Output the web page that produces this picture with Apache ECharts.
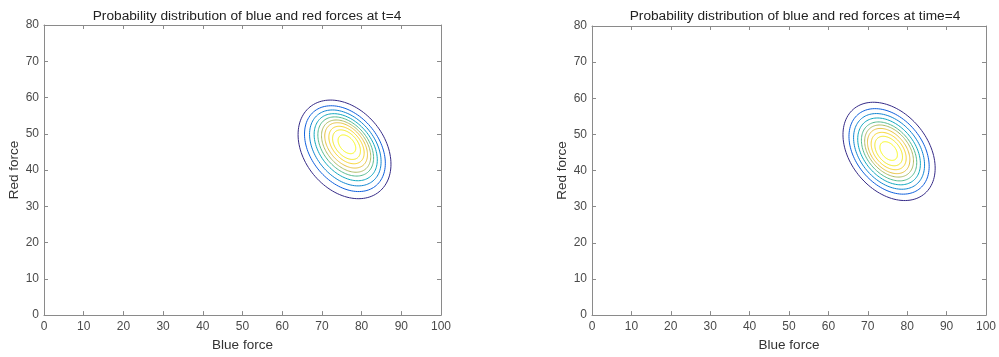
<!DOCTYPE html>
<html>
<head>
<meta charset="utf-8">
<script src="https://cdn.jsdelivr.net/npm/echarts@6/dist/echarts.min.js"></script>
<style>
  html, body { margin: 0; padding: 0; background: #fff; }
  #chart { width: 999px; height: 357px; }
</style>
</head>
<body>
<div id="chart"></div>
<script>
  // axis ranges / ticks
  const xMin = 0, xMax = 100, xStep = 10
  const yMin = 0, yMax = 80, yStep = 10

  const titles = [
    'Probability distribution of blue and red forces at t=4',
    'Probability distribution of blue and red forces at time=4'
  ]

  // contour rings (outer -> inner)
  // relative size of each ring versus the outer one
  const ringScale = [1, 0.87, 0.77, 0.68, 0.60, 0.53, 0.46, 0.38, 0.30, 0.19]
  // parula colours per level
  const ringColors = ['#352a87', '#0f60dd', '#1186d3', '#10a8c0', '#55bb90',
    '#aebd67', '#e7c343', '#f8d42a', '#f2e91f', '#f9fb0e']

  // left plot (t=4)
  const leftCx = [75.7, 75.8, 75.9, 76.0, 76.0, 76.1, 76.1, 76.2, 76.2, 76.3]
  const leftCy = [45.7, 45.9, 46.1, 46.3, 46.5, 46.6, 46.8, 46.9, 47.0, 47.1]
  const leftRho = [-0.30, -0.34, -0.36, -0.38, -0.39, -0.40, -0.41, -0.42, -0.42, -0.42]
  const leftSpread = {sx: 11.7, sy: 13.6}

  // right plot (time=4)
  const rightCx = [75.4, 75.4, 75.4, 75.4, 75.4, 75.4, 75.3, 75.3, 75.3, 75.3]
  const rightCy = [45.3, 45.3, 45.3, 45.3, 45.3, 45.4, 45.4, 45.4, 45.4, 45.4]
  const rightRho = [-0.34, -0.35, -0.36, -0.37, -0.38, -0.38, -0.39, -0.39, -0.40, -0.40]
  const rightSpread = {sx: 11.7, sy: 13.6}

  const axisGrey = '#8a8a8a'
  const labelGrey = '#4a4a4a'
  const font = 'Liberation Sans, Arial, sans-serif'

  function ringData(cx, cy, rho, spread) {
    return ringScale.map((s, i) => [cx[i], cy[i], spread.sx * s, spread.sy * s, rho[i], i])
  }

  function renderRing(params, api) {
    const cx = api.value(0), cy = api.value(1)
    const sx = api.value(2), sy = api.value(3), rho = api.value(4)
    const idx = api.value(5)
    const pts = []
    const n = 120
    for (let k = 0; k <= n; k++) {
      const t = 2 * Math.PI * k / n
      const x = cx + sx * Math.cos(t)
      const y = cy + sy * (rho * Math.cos(t) + Math.sqrt(1 - rho * rho) * Math.sin(t))
      pts.push(api.coord([x, y]))
    }
    return {
      type: 'polyline',
      shape: {points: pts},
      style: {stroke: ringColors[idx], fill: null, lineWidth: 1}
    }
  }

  function xAxes(gridIndex) {
    const base = {
      type: 'value', gridIndex: gridIndex, min: xMin, max: xMax, interval: xStep,
      splitLine: {show: false},
      axisLine: {show: true, onZero: false, lineStyle: {color: axisGrey, width: 1}},
      axisTick: {show: true, inside: true, length: 4, lineStyle: {color: axisGrey}}
    }
    return [
      Object.assign({}, base, {
        position: 'bottom',
        name: 'Blue force', nameLocation: 'middle', nameGap: 20,
        nameTextStyle: {color: '#333', fontSize: 13.5, fontFamily: font},
        axisLabel: {color: labelGrey, fontSize: 12, fontFamily: font, margin: 6}
      }),
      Object.assign({}, base, {position: 'top', axisLabel: {show: false}})
    ]
  }

  function yAxes(gridIndex) {
    const base = {
      type: 'value', gridIndex: gridIndex, min: yMin, max: yMax, interval: yStep,
      splitLine: {show: false},
      axisLine: {show: true, onZero: false, lineStyle: {color: axisGrey, width: 1}},
      axisTick: {show: true, inside: true, length: 4, lineStyle: {color: axisGrey}}
    }
    return [
      Object.assign({}, base, {
        position: 'left',
        name: 'Red force', nameLocation: 'middle', nameGap: 22,
        nameTextStyle: {color: '#333', fontSize: 13.5, fontFamily: font},
        axisLabel: {color: labelGrey, fontSize: 12, fontFamily: font, margin: 5}
      }),
      Object.assign({}, base, {position: 'right', axisLabel: {show: false}})
    ]
  }

  const chart = echarts.init(document.getElementById('chart'), null, {renderer: 'canvas'})

  chart.setOption({
    backgroundColor: '#fff',
    animation: false,
    title: [
      {text: titles[0], left: 242, top: 4, textAlign: 'center',
        textStyle: {color: '#222', fontSize: 13.7, fontWeight: 'normal', fontFamily: font}},
      {text: titles[1], left: 790, top: 4, textAlign: 'center',
        textStyle: {color: '#222', fontSize: 13.7, fontWeight: 'normal', fontFamily: font}}
    ],
    grid: [
      {left: 44, top: 25, width: 397, height: 297},
      {left: 592, top: 26, width: 396, height: 297}
    ],
    xAxis: xAxes(0).concat(xAxes(1)),
    yAxis: yAxes(0).concat(yAxes(1)),
    series: [
      {
        type: 'custom', xAxisIndex: 0, yAxisIndex: 0,
        renderItem: renderRing,
        encode: {x: 0, y: 1},
        data: ringData(leftCx, leftCy, leftRho, leftSpread),
        silent: true
      },
      {
        type: 'custom', xAxisIndex: 2, yAxisIndex: 2,
        renderItem: renderRing,
        encode: {x: 0, y: 1},
        data: ringData(rightCx, rightCy, rightRho, rightSpread),
        silent: true
      }
    ]
  })
</script>
</body>
</html>
